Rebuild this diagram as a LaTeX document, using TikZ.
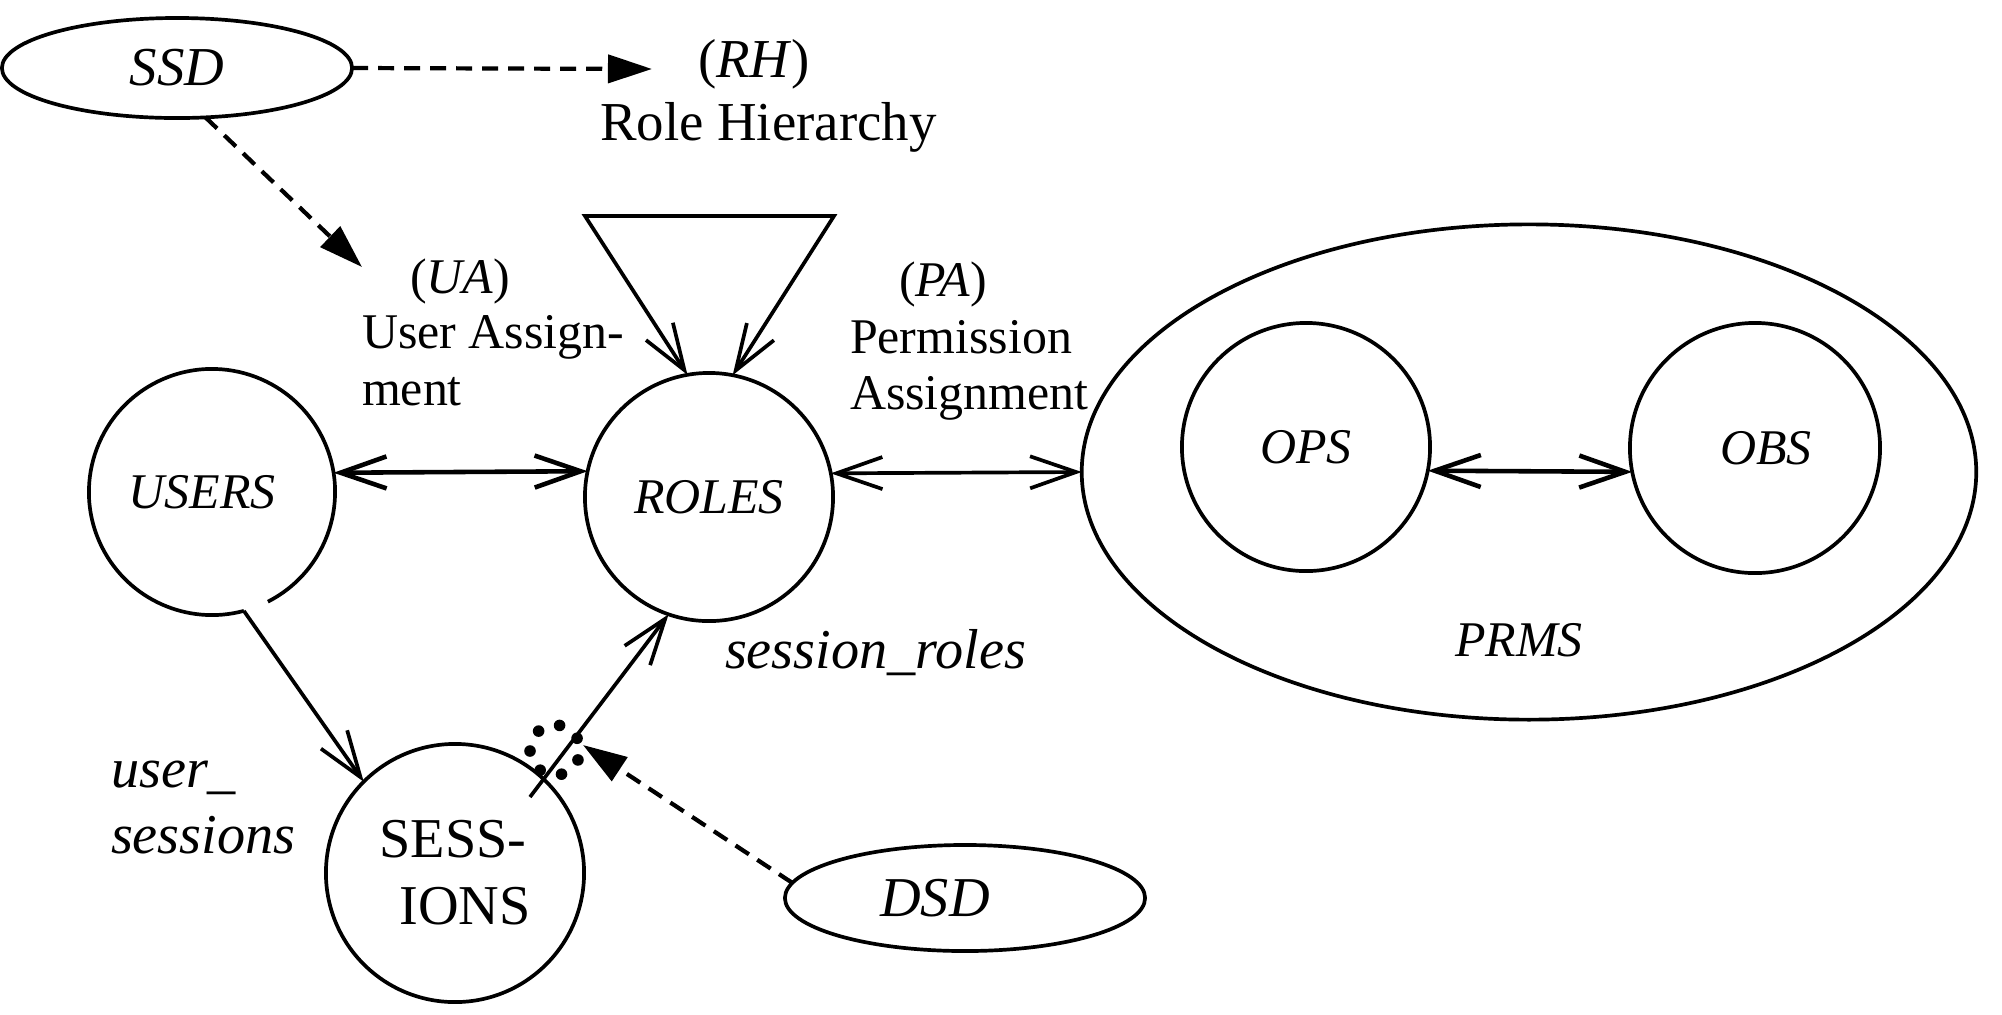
\documentclass[tikz,border=0pt]{standalone}
\usepackage{fontspec}
\setmainfont{Liberation Serif}
\usetikzlibrary{arrows.meta,shapes.geometric,calc}
\begin{document}
\begin{tikzpicture}[x=0.01cm,y=-0.01cm,
  line width=1.05pt,
  every node/.style={inner sep=0pt,outer sep=0pt},
  setc/.style={circle,draw,minimum size=#1},
  oval/.style 2 args={ellipse,draw,minimum width=#1,minimum height=#2},
  obarrow/.style={-{Straight Barb[length=4.6mm,width=3.2mm]}},
  dbarrow/.style={{Straight Barb[length=4.6mm,width=3.2mm]}-{Straight Barb[length=4.6mm,width=3.2mm]}},
  dasharrow/.style={dash pattern=on 1.6mm off 1mm,line width=1.2pt,-{Triangle[length=4.4mm,width=2.8mm]}},
  fA/.style={font=\fontsize{14.2pt}{16pt}\selectfont},
  fB/.style={font=\fontsize{15.6pt}{18pt}\selectfont},
  fC/.style={font=\fontsize{16pt}{19pt}\selectfont},
  lbl/.style={anchor=base west},
]
\useasboundingbox (0,0) rectangle (2002,1014);

% sets
\node[oval={3.5cm}{1.0cm},fB] (ssd) at (177,68) {\itshape SSD};
\node[circle,minimum size=2.46cm,fA] (users) at (212,492) {\itshape USERS\hspace*{0.2cm}};
\draw (users.-63) arc[start angle=-63,end angle=285,radius=1.23cm];
\node[setc=2.48cm,fA] (roles) at (709,497) {\itshape ROLES};
\node[setc=2.58cm,fC,align=left] (sessions) at (455,873) {SESS-\\\hspace*{0.2cm}IONS};
\node[oval={8.94cm}{4.95cm}] (prms) at (1529,472) {};
\node[setc=2.48cm,fA] (ops) at (1306,447) {\itshape OPS};
\node[setc=2.5cm,fA] (obs) at (1755,448) {\itshape\hspace*{0.22cm}OBS};
\node[oval={3.6cm}{1.06cm},fC] (dsd) at (965,898) {\itshape DSD\hspace*{0.6cm}};

% labels
\node[fB,lbl] (rh1) at (698,77) {(\textit{RH})};
\node[fB,lbl] (rh2) at (600,140) {Role Hierarchy};
\node[fA,lbl] (ua1) at (410,293) {(\textit{UA})};
\node[fA,lbl] (ua2) at (362,348) {User Assign-};
\node[fA,lbl] (ua3) at (362,405) {ment};
\node[fA,lbl] (pa1) at (899,296) {(\textit{PA})};
\node[fA,lbl] (pa2) at (850,353) {Permission};
\node[fA,lbl] (pa3) at (850,409) {Assignment};
\node[fC,lbl] (us1) at (111,787) {\itshape user\_};
\node[fC,lbl] (us2) at (111,853) {\itshape sessions};
\node[fC,lbl] (srl) at (725,668) {\itshape session\_roles};
\node[fA,lbl] (prmsl) at (1455,656) {\itshape PRMS};

% connectors
\coordinate (rhtip) at (652,69);
\draw[dasharrow] (ssd.east) -- (rhtip);
\coordinate (uatip) at (362,267);
\draw[dasharrow] (ssd.-60.75) -- (uatip);
\draw[dbarrow,line width=1.3pt] (users.9.4) -- (roles.168.4);
\coordinate (tl) at (585,216);
\coordinate (tr) at (834,216);
\draw[dbarrow] (roles.100) -- (tl) -- (tr) -- (roles.79);
\draw[dbarrow] (roles.11.6) -- (prms.west);
\draw[dbarrow,line width=1.3pt] (ops.-11.4) -- (obs.191.3);
\draw[obarrow] (users.-75) -- (sessions.135);
\coordinate (sr0) at (530,797);
\draw[obarrow] (sr0) -- (roles.-109);
\coordinate (dsdtip) at (583,745);
\draw[dasharrow] (dsd.175) -- (dsdtip);
\coordinate (dc) at (555,750);
\foreach \a in {28,79.4,130.9,182.3,233.7,285.1,336.6}
  \fill ($(dc)+(\a:0.25cm)$) circle[radius=0.058cm];
\end{tikzpicture}
\end{document}
